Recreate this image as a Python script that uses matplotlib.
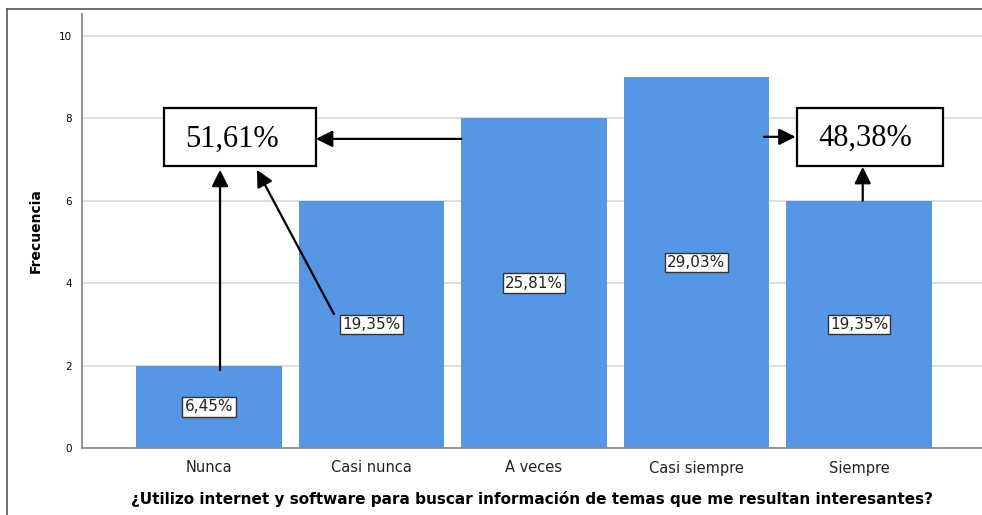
import matplotlib.pyplot as plt
from matplotlib.patches import Rectangle
from matplotlib.lines import Line2D

# datos
categorias = ["Nunca", "Casi nunca", "A veces", "Casi siempre", "Siempre"]
frecuencias = [2, 6, 8, 9, 6]
porcentajes = ["6,45%", "19,35%", "25,81%", "29,03%", "19,35%"]
total_izq = "51,61%"
total_der = "48,38%"
yticks = [0, 2, 4, 6, 8, 10]

azul = "#5596e5"

fig = plt.figure(figsize=(9.82, 5.15), dpi=100)
ax = fig.add_axes([82 / 982, 67 / 515, 900 / 982, 434 / 515])

x = list(range(len(categorias)))
ax.bar(x, frecuencias, width=0.895, color=azul, zorder=2)

ax.set_xlim(-0.7815, 4.757)
ax.set_ylim(0, 10.53)
ax.set_yticks(yticks)
ax.set_yticklabels([str(t) for t in yticks], fontsize=7.5)
ax.set_xticks(x)
ax.set_xticklabels(categorias, fontsize=10.5, color="#222222")
ax.tick_params(axis="both", length=0)
ax.tick_params(axis="x", pad=9)
ax.tick_params(axis="y", pad=7)
ax.yaxis.grid(True, color="#d9d9d9", lw=1.2, zorder=0)
ax.set_axisbelow(True)
for s in ["top", "right"]:
    ax.spines[s].set_visible(False)
for s in ["left", "bottom"]:
    ax.spines[s].set_color("#8c8c8c")
    ax.spines[s].set_linewidth(1.3)

ax.set_ylabel("Frecuencia", fontsize=10, fontweight="bold", labelpad=12)
ax.set_xlabel("¿Utilizo internet y software para buscar información de temas que me resultan interesantes?",
              fontsize=11, fontweight="bold", labelpad=11)

# etiquetas de porcentaje dentro de las barras
for xi, h, p in zip(x, frecuencias, porcentajes):
    ax.text(xi, h / 2, p, ha="center", va="center", fontsize=11, color="#222222", zorder=4,
            bbox=dict(boxstyle="square,pad=0.15", fc="white", ec="#333333", lw=1))

# cajas grandes con totales
ax.add_patch(Rectangle((-0.277, 6.83), 0.934, 1.42, fc="white", ec="black", lw=1.6, zorder=5))
ax.text(0.14, 7.5, total_izq, ha="center", va="center", fontsize=22,
        family="Liberation Serif", zorder=6)
ax.add_patch(Rectangle((3.618, 6.85), 0.901, 1.41, fc="white", ec="black", lw=1.6, zorder=5))
ax.text(4.04, 7.52, total_der, ha="center", va="center", fontsize=22,
        family="Liberation Serif", zorder=6)

# flechas
flecha = dict(arrowstyle="-|>,head_length=0.4,head_width=0.2", color="black", lw=1.6,
              mutation_scale=25, shrinkA=0, shrinkB=0)
ax.annotate("", xy=(0.658, 7.5), xytext=(1.5525, 7.5), arrowprops=flecha, zorder=6)
ax.annotate("", xy=(0.068, 6.75), xytext=(0.068, 1.89), arrowprops=flecha, zorder=6)
ax.annotate("", xy=(0.295, 6.75), xytext=(0.769, 3.25), arrowprops=flecha, zorder=6)
ax.annotate("", xy=(3.61, 7.55), xytext=(3.415, 7.55), arrowprops=flecha, zorder=6)
ax.annotate("", xy=(4.023, 6.82), xytext=(4.023, 6.0), arrowprops=flecha, zorder=6)

# marco exterior
fig.add_artist(Line2D([7 / 982, 7 / 982], [0, 1 - 9 / 515], color="#555555", lw=1.2))
fig.add_artist(Line2D([7 / 982, 1], [1 - 9 / 515, 1 - 9 / 515], color="#555555", lw=1.2))

fig.savefig("out.png", dpi=100)
